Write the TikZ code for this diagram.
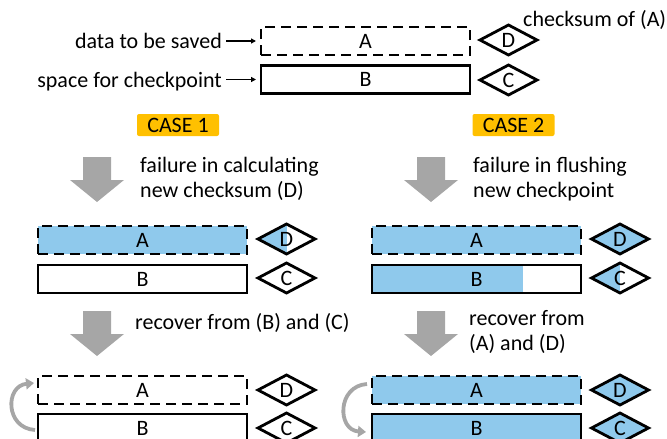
\documentclass[tikz,border=0pt]{standalone}
\usepackage{fontspec}
\setmainfont{Carlito}
\usetikzlibrary{shapes.geometric,arrows.meta}
\definecolor{bluefill}{RGB}{143,201,236}
\definecolor{caseorange}{RGB}{255,192,0}
\definecolor{arrowgray}{RGB}{166,166,166}
\begin{document}
\begin{tikzpicture}[x=1pt,y=-1pt,
  every node/.style={font=\fontsize{22}{25}\selectfont},
  box/.style={draw, line width=2.8pt, minimum width=209pt, minimum height=28pt, inner sep=0pt, outer sep=0pt},
  dbox/.style={box, dash pattern=on 10pt off 6pt},
  dia/.style={draw, diamond, line width=2.8pt, minimum width=57pt, minimum height=30pt, inner sep=0pt, outer sep=0pt},
  full/.style={fill=bluefill},
  halffill/.style={path picture={\fill[bluefill] (path picture bounding box.north west) rectangle (path picture bounding box.south);}},
  partfill/.style={path picture={\fill[bluefill] (path picture bounding box.north west) rectangle ([xshift=151pt]path picture bounding box.south west);}},
  lbl/.style={inner sep=0pt},
  casebox/.style={fill=caseorange, rounded corners=2pt, minimum width=82pt, minimum height=22pt, inner sep=0pt},
  smallarr/.style={-{Triangle[length=5pt,width=5pt]}, line width=1.3pt},
  curvarr/.style={arrowgray, line width=3.8pt, -{Triangle[length=8pt,width=11pt]}},
  blockarr/.pic={\fill[arrowgray] (-14,0) -- (14,0) -- (14,23) -- (27,23) -- (0,45) -- (-27,23) -- (-14,23) -- cycle;}
]
\clip (0,0) rectangle (667,439);
\useasboundingbox (0,0) rectangle (667,439);

% top
\node[dbox] (tA) at (365.5,41) {A};
\node[box] (tB) at (365.5,79.5) {B};
\node[dia] (tD) at (508.5,40) {D};
\node[dia] (tC) at (508.5,80) {C};
\node[lbl, anchor=base east] (lab1) at (222,48) {data to be saved};
\node[lbl, anchor=base east] (lab2) at (222,87) {space for checkpoint};
\node[lbl, anchor=base west] (chk) at (523,27) {checksum of (A)};
\draw[smallarr] ([xshift=4pt]lab1.east |- tA.west) -- ([xshift=-5pt]tA.west);
\draw[smallarr] ([xshift=4pt]lab2.east |- tB.west) -- ([xshift=-5pt]tB.west);

% case labels
\node[casebox] (case1) at (178,125) {CASE 1};
\node[casebox] (case2) at (513.5,125) {CASE 2};

% first arrows
\pic at (97,157) {blockarr};
\pic at (431,157) {blockarr};
\node[lbl, anchor=north west, align=left] (t1) at (140,157) {failure in calculating\\new checksum (D)};
\node[lbl, anchor=north west, align=left] (t2) at (473,157) {failure in flushing\\new checkpoint};

% row 2, case 1
\node[dbox, full] (aA) at (142.5,240) {A};
\node[box] (aB) at (142.5,279) {B};
\node[dia, halffill] (aD) at (286.5,239) {D};
\node[dia] (aC) at (286.5,278) {C};
% row 2, case 2
\node[dbox, full] (bA) at (476.5,240) {A};
\node[box, partfill] (bB) at (476.5,279) {B};
\node[dia, full] (bD) at (620,239) {D};
\node[dia, halffill] (bC) at (620,278) {C};

% second arrows
\pic at (97,311) {blockarr};
\pic at (431,311) {blockarr};
\node[lbl, anchor=base west] (t3) at (135,329) {recover from (B) and (C)};
\node[lbl, anchor=north west, align=left] (t4) at (469,310) {recover from\\(A) and (D)};

% row 3, case 1
\node[dbox] (cA) at (142.5,390) {A};
\node[box] (cB) at (142.5,428) {B};
\node[dia] (cD) at (286.5,390) {D};
\node[dia] (cC) at (286.5,428) {C};
% row 3, case 2
\node[dbox, full] (dA) at (476.5,390) {A};
\node[box, full] (dB) at (476.5,428) {B};
\node[dia, full] (dD) at (620,390) {D};
\node[dia, full] (dC) at (620,428) {C};

% curved recovery arrows
\draw[curvarr] ([shift={(-3,2)}]cB.west) .. controls (5,428) and (5,386) .. ([shift={(-4,-7)}]cA.west);
\draw[curvarr] ([shift={(-5,-6)}]dA.west) .. controls (337,386) and (337,430) .. ([shift={(-6,4)}]dB.west);
\end{tikzpicture}
\end{document}
